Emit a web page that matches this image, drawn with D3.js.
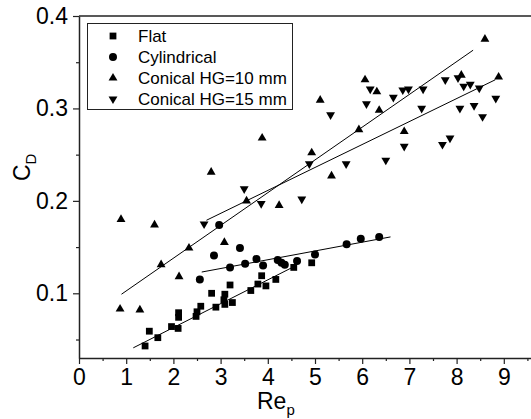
<!DOCTYPE html>
<html>
<head>
<meta charset="utf-8">
<script src="https://cdn.jsdelivr.net/npm/d3@7"></script>
<style>
  body { margin: 0; background: #fff; }
  svg { display: block; font-family: "Liberation Sans", Arial, sans-serif; }
</style>
</head>
<body>
<div id="chart"></div>
<script>
// 데이터: 그림에서 읽은 값 (Re_p, C_D)
const flatX = [1.40, 1.49, 1.67, 1.96, 2.10, 2.11, 2.11, 2.48, 2.50, 2.58, 2.81, 2.90, 3.07, 3.09, 3.09, 3.20, 3.25, 3.64, 3.79, 3.87, 3.96, 4.17, 4.55, 4.93];
const flatY = [0.043, 0.059, 0.052, 0.064, 0.062, 0.074, 0.079, 0.075, 0.080, 0.086, 0.100, 0.085, 0.093, 0.099, 0.088, 0.109, 0.090, 0.103, 0.110, 0.119, 0.108, 0.115, 0.128, 0.133];

const cylX = [2.56, 2.86, 2.97, 3.20, 3.41, 3.52, 3.76, 3.90, 4.21, 4.29, 4.36, 4.62, 5.00, 5.67, 5.97, 6.36];
const cylY = [0.115, 0.141, 0.174, 0.128, 0.149, 0.132, 0.137, 0.130, 0.136, 0.133, 0.131, 0.135, 0.142, 0.153, 0.159, 0.161];

const con10X = [0.87, 0.89, 1.29, 1.60, 1.74, 2.12, 2.33, 2.80, 3.08, 3.55, 3.88, 4.24, 4.93, 5.11, 5.35, 5.93, 6.06, 6.31, 6.36, 6.89, 8.10, 8.60, 8.89];
const con10Y = [0.083, 0.180, 0.082, 0.174, 0.131, 0.118, 0.149, 0.231, 0.155, 0.200, 0.268, 0.195, 0.252, 0.309, 0.227, 0.277, 0.331, 0.318, 0.298, 0.275, 0.336, 0.375, 0.334];

const con15X = [2.65, 3.50, 3.86, 4.72, 4.88, 5.33, 5.66, 6.09, 6.17, 6.50, 6.66, 6.86, 6.89, 6.98, 7.29, 7.26, 7.70, 7.76, 7.86, 8.03, 8.07, 8.15, 8.29, 8.37, 8.48, 8.55, 8.83];
const con15Y = [0.175, 0.213, 0.197, 0.202, 0.240, 0.293, 0.240, 0.305, 0.321, 0.244, 0.312, 0.320, 0.259, 0.321, 0.321, 0.300, 0.261, 0.331, 0.268, 0.333, 0.300, 0.324, 0.326, 0.303, 0.322, 0.291, 0.311];

// 추세선 양 끝점
const flatFit = [[1.15, 0.041], [4.56, 0.129]];
const cylFit = [[2.60, 0.123], [6.60, 0.161]];
const con10Fit = [[0.90, 0.099], [8.35, 0.363]];
const con15Fit = [[2.70, 0.179], [8.82, 0.331]];

const seriesNames = ['Flat', 'Cylindrical', 'Conical HG=10 mm', 'Conical HG=15 mm'];
const xTicks = [0, 1, 2, 3, 4, 5, 6, 7, 8, 9];
const yTicks = [0.1, 0.2, 0.3, 0.4];

const width = 531, height = 419;
const margin = { left: 79, top: 16, right: -20, bottom: 61 };

const svg = d3.select('#chart').append('svg')
  .attr('width', width)
  .attr('height', height);

const x = d3.scaleLinear().domain([0, 10]).range([margin.left, width - margin.right]);
const y = d3.scaleLinear().domain([0.03, 0.4]).range([height - margin.bottom, margin.top]);

// 심볼 정의
const symSquare = d3.symbol().type(d3.symbolSquare).size(46);
const symCircle = d3.symbol().type(d3.symbolCircle).size(50);
const symTri = d3.symbol().type(d3.symbolTriangle).size(34);

const series = [
  { xs: flatX, ys: flatY, path: symSquare(), rot: 0, fit: flatFit },
  { xs: cylX, ys: cylY, path: symCircle(), rot: 0, fit: cylFit },
  { xs: con10X, ys: con10Y, path: symTri(), rot: 0, fit: con10Fit },
  { xs: con15X, ys: con15Y, path: symTri(), rot: 180, fit: con15Fit }
];

// 프레임 (위쪽 선)
svg.append('line')
  .attr('x1', x(0)).attr('x2', width)
  .attr('y1', y(0.4)).attr('y2', y(0.4))
  .attr('stroke', '#222').attr('stroke-width', 1.5);

// x 축
const xAxis = svg.append('g')
  .attr('transform', `translate(0,${y(0.03)})`)
  .call(d3.axisBottom(x).tickValues(xTicks).tickFormat(d3.format('d')).tickSize(6).tickSizeOuter(0));
svg.append('g')
  .attr('transform', `translate(0,${y(0.03)})`)
  .call(d3.axisBottom(x).tickValues(d3.range(0.5, 10, 1)).tickFormat('').tickSize(3).tickSizeOuter(0))
  .select('.domain').remove();

// y 축
const yAxis = svg.append('g')
  .attr('transform', `translate(${x(0)},0)`)
  .call(d3.axisLeft(y).tickValues(yTicks).tickFormat(d3.format('.1f')).tickSize(6).tickSizeOuter(0));
svg.append('g')
  .attr('transform', `translate(${x(0)},0)`)
  .call(d3.axisLeft(y).tickValues([0.05, 0.15, 0.25, 0.35]).tickFormat('').tickSize(3).tickSizeOuter(0))
  .select('.domain').remove();

svg.selectAll('.domain').attr('stroke', '#222').attr('stroke-width', 1.5);
svg.selectAll('.tick line').attr('stroke', '#222').attr('stroke-width', 1.2);
xAxis.selectAll('text').attr('font-size', 23).attr('fill', '#000').attr('dy', '0.8em').attr('font-family', '"Liberation Sans", Arial, sans-serif');
yAxis.selectAll('text').attr('font-size', 23).attr('fill', '#000').attr('x', -11).attr('font-family', '"Liberation Sans", Arial, sans-serif');

// 축 제목
const xt = svg.append('text')
  .attr('x', 257).attr('y', 409)
  .attr('font-size', 23);
xt.append('tspan').text('Re');
xt.append('tspan').text('p').attr('font-size', 15).attr('dy', 6);

const yt = svg.append('text')
  .attr('transform', 'translate(30,181) rotate(-90)')
  .attr('font-size', 23);
yt.append('tspan').text('C');
yt.append('tspan').text('D').attr('font-size', 15).attr('dy', 6);

// 추세선
const line = d3.line().x(d => x(d[0])).y(d => y(d[1]));
series.forEach(s => {
  svg.append('path')
    .attr('d', line(s.fit))
    .attr('fill', 'none')
    .attr('stroke', '#000')
    .attr('stroke-width', 1);
});

// 데이터 점
series.forEach(s => {
  svg.append('g').selectAll('path')
    .data(d3.range(s.xs.length))
    .join('path')
    .attr('d', s.path)
    .attr('transform', i => `translate(${x(s.xs[i])},${y(s.ys[i])}) rotate(${s.rot})`)
    .attr('fill', '#000');
});

// 범례
const legend = svg.append('g');
legend.append('rect')
  .attr('x', 87.5).attr('y', 23.5)
  .attr('width', 205).attr('height', 86)
  .attr('fill', '#fff')
  .attr('stroke', '#222').attr('stroke-width', 1);
seriesNames.forEach((name, i) => {
  const ly = 36 + i * 21;
  legend.append('path')
    .attr('d', series[i].path)
    .attr('transform', `translate(113,${ly}) rotate(${series[i].rot})`)
    .attr('fill', '#000');
  legend.append('text')
    .attr('x', 138).attr('y', ly + 6)
    .attr('font-size', 17)
    .text(name);
});
</script>
</body>
</html>
